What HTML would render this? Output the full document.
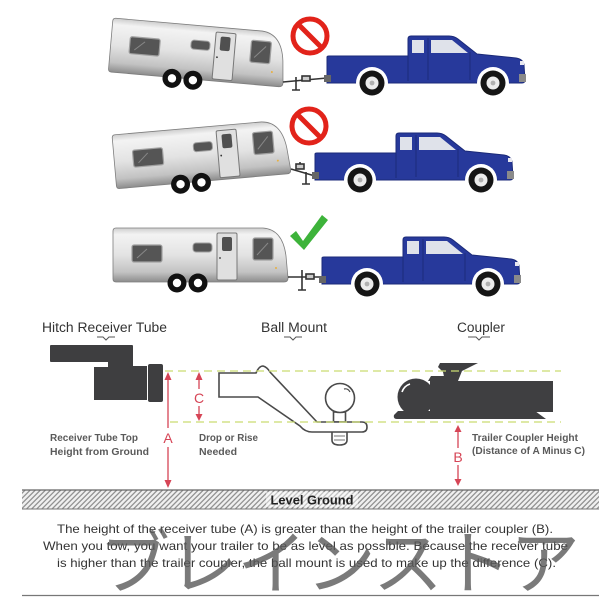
<!DOCTYPE html>
<html><head><meta charset="utf-8"><style>
html,body{margin:0;padding:0;background:#fff;}
svg{display:block;}
</style></head><body>
<svg width="604" height="600" viewBox="0 0 604 600" xmlns="http://www.w3.org/2000/svg">
<defs>
 <linearGradient id="silver" x1="0" y1="0" x2="0" y2="1">
  <stop offset="0" stop-color="#cdcdcd"/>
  <stop offset="0.12" stop-color="#f3f3f3"/>
  <stop offset="0.5" stop-color="#e3e3e3"/>
  <stop offset="0.82" stop-color="#c2c2c2"/>
  <stop offset="1" stop-color="#8c8c8c"/>
 </linearGradient>
 <pattern id="hatch" width="3.6" height="10" patternUnits="userSpaceOnUse" patternTransform="rotate(45)">
  <rect width="3.6" height="10" fill="#f0f0f0"/>
  <line x1="0.7" y1="0" x2="0.7" y2="10" stroke="#8a8a8a" stroke-width="1.2"/>
 </pattern>
 <g id="trailer">
  <path d="M3,0 L150,0 C164,1 171,12 173,28 L175,50 Q175,54 171,54 L3,54 Q0,54 0,51 L0,3 Q0,0 3,0Z" fill="url(#silver)" stroke="#7d7d7d" stroke-width="0.8"/>
  <rect x="19" y="17" width="30" height="17" rx="2" fill="#555" stroke="#a0a0a0" stroke-width="1.2"/>
  <line x1="24" y1="30" x2="34" y2="21" stroke="#888" stroke-width="1"/>
  <rect x="80" y="15" width="19" height="9" rx="3" fill="#555" stroke="#a0a0a0" stroke-width="1"/>
  <rect x="104" y="5" width="20" height="47" rx="1.5" fill="#e0e0e0" stroke="#777" stroke-width="1"/>
  <rect x="109" y="9" width="10" height="14" rx="2" fill="#505050"/>
  <circle cx="107" cy="30" r="0.9" fill="#333"/>
  <rect x="140" y="10" width="20" height="22" rx="2" fill="#555" stroke="#a0a0a0" stroke-width="1.2"/>
  <line x1="144" y1="27" x2="155" y2="15" stroke="#888" stroke-width="1"/>
  <circle cx="163" cy="40" r="1" fill="#e8b040"/>
  <circle cx="64" cy="55" r="9.5" fill="#111"/><circle cx="64" cy="55" r="4.2" fill="#fff"/>
  <circle cx="85" cy="55" r="9.5" fill="#111"/><circle cx="85" cy="55" r="4.2" fill="#fff"/>
 </g>
 <g id="truck">
  <path d="M0,1 Q0,0 2,0 L81,0 L81,-17 Q81,-20 84,-20 L122,-20 Q127,-20 131,-17 L150,-2 L189,2 Q196,3 197,9 L198,24 Q198,27 195,27 L0,27 Z" fill="#27399b" stroke="#1b2a78" stroke-width="1"/>
  <line x1="81" y1="0" x2="81" y2="25" stroke="#1b2a78" stroke-width="1"/>
  <line x1="101" y1="-18" x2="101" y2="24" stroke="#1b2a78" stroke-width="0.9"/>
  <line x1="143" y1="-4" x2="143" y2="24" stroke="#1b2a78" stroke-width="0.9"/>
  <rect x="85" y="-16" width="12" height="13" fill="#dfe2ea"/>
  <polygon points="104,-16 125,-16 141,-3 104,-3" fill="#dfe2ea"/>
  <rect x="-3" y="19" width="7" height="7" fill="#666"/>
  <rect x="192" y="18" width="7" height="8" fill="#8a8a8a"/>
  <rect x="193" y="5" width="4" height="4" fill="#e8e8f0"/>
  <circle cx="45" cy="27" r="16" fill="#fff"/>
  <circle cx="166" cy="27" r="16" fill="#fff"/>
  <circle cx="45" cy="27" r="12.5" fill="#151515"/><circle cx="45" cy="27" r="6.5" fill="#ececec"/><circle cx="45" cy="27" r="2.4" fill="#b0b0b0"/>
  <circle cx="166" cy="27" r="12.5" fill="#151515"/><circle cx="166" cy="27" r="6.5" fill="#ececec"/><circle cx="166" cy="27" r="2.4" fill="#b0b0b0"/>
 </g>
</defs>

<!-- Row 1 -->
<use href="#trailer" transform="translate(113,18) rotate(5)"/>
<g stroke="#333" stroke-width="1.6" fill="none">
 <path d="M283,82 L327,78"/>
 <path d="M296,77 L296,90 M292,90 L300,90"/>
 <rect x="302" y="76" width="8" height="5" fill="#ccc"/>
</g>
<use href="#truck" transform="translate(327,56)"/>
<g transform="translate(310,36)"><circle r="17" fill="#fff" stroke="#e2231a" stroke-width="5"/><line x1="-12" y1="-12" x2="12" y2="12" stroke="#e2231a" stroke-width="5"/></g>

<!-- Row 2 -->
<use href="#trailer" transform="translate(112,135) rotate(-5)"/>
<g stroke="#333" stroke-width="1.6" fill="none">
 <path d="M291,169 L315,176"/>
 <path d="M300,166 L300,162 M306,172 L306,184 M302,184 L310,184"/>
 <rect x="296" y="164" width="8" height="5" fill="#ccc"/>
</g>
<use href="#truck" transform="translate(315,153)"/>
<g transform="translate(309,126)"><circle r="17" fill="#fff" stroke="#e2231a" stroke-width="5"/><line x1="-12" y1="-12" x2="12" y2="12" stroke="#e2231a" stroke-width="5"/></g>

<!-- Row 3 -->
<use href="#trailer" transform="translate(113,228)"/>
<g stroke="#333" stroke-width="1.6" fill="none">
 <path d="M288,277 L322,277"/>
 <path d="M302,270 L302,290 M298,290 L306,290"/>
 <rect x="306" y="274" width="8" height="5" fill="#ccc"/>
</g>
<use href="#truck" transform="translate(322,257)"/>
<polygon points="290,236 296,231 303,241 322,215 328,220 304,250" fill="#3db33a"/>

<!-- Titles -->
<g font-family="Liberation Sans, Arial, sans-serif" fill="#333" font-size="13.5">
 <text x="42" y="332" textLength="125" lengthAdjust="spacingAndGlyphs">Hitch Receiver Tube</text>
 <text x="261" y="332" textLength="66" lengthAdjust="spacingAndGlyphs">Ball Mount</text>
 <text x="457" y="332" textLength="48" lengthAdjust="spacingAndGlyphs">Coupler</text>
</g>
<g stroke="#555" stroke-width="1" fill="none">
 <path d="M97,337 L103,337 L106,340 L109,337 L115,337"/>
 <path d="M284,337 L290,337 L293,340 L296,337 L302,337"/>
 <path d="M468,337 L476,337 L479,340 L482,337 L490,337"/>
</g>

<!-- Receiver tube -->
<path d="M50,346 Q50,345 51,345 L132,345 Q133,345 133,346 L133,366 L147,366 L147,400 L94,400 L94,367 L108,367 L108,362 L51,362 Q50,362 50,361 Z" fill="#3e3e40"/>
<rect x="148" y="364" width="15" height="38" rx="2" fill="#3e3e40"/>

<!-- Ball mount -->
<g stroke="#4a4a4a" stroke-width="1.6" fill="#fff">
 <path d="M332,432 L332,440 Q332,445 339.5,445 Q347,445 347,440 L347,432"/>
 <path d="M334,436 L345,436 M334,440 L345,440" stroke-width="0.8"/>
 <rect x="333.5" y="412" width="12" height="10"/>
 <circle cx="340" cy="398" r="14.5"/>
 <path d="M344,389 Q348,388 350,392" stroke-width="1.2" fill="none"/>
 <path d="M219,373 L256,373 Q259,366 263,366 Q267,367 270,372 L317,422 L362,422 Q367,422 367,427 Q367,432 362,432 L312,432 Q305,432 300,426 L258,397 L219,397 Z"/>
</g>

<!-- Coupler -->
<g fill="#3f3f41">
 <circle cx="416" cy="397" r="18.5"/>
 <rect x="430" y="381" width="123" height="31"/>
 <path d="M428,381 L431,376 L446,376 L448,381 Z"/>
 <polygon points="440,363 478,363 470,367 462,371 458,381 445,381 443,372 438,367"/>
 <path d="M398,411 L535,411 L546,419 L397,419 Q393,419 394,415 Z"/>
</g>
<path d="M402,392 Q404,386 410,384" stroke="#fff" stroke-width="1.6" fill="none"/>

<!-- Dashed guide lines -->
<g stroke="#cbdc72" stroke-width="1.3" stroke-dasharray="8 5" fill="none">
 <line x1="165" y1="371" x2="561" y2="371"/>
 <line x1="170" y1="422" x2="561" y2="422"/>
</g>

<!-- Red arrows -->
<g stroke="#d64556" stroke-width="1.3">
 <line x1="168" y1="378" x2="168" y2="428"/>
 <line x1="168" y1="447" x2="168" y2="482"/>
 <line x1="199" y1="378" x2="199" y2="389"/>
 <line x1="199" y1="406" x2="199" y2="416"/>
 <line x1="458" y1="430" x2="458" y2="448"/>
 <line x1="458" y1="465" x2="458" y2="481"/>
</g>
<g fill="#d64556">
 <polygon points="168,372 164.5,380 171.5,380"/>
 <polygon points="168,488 164.5,480 171.5,480"/>
 <polygon points="199,372 195.5,380 202.5,380"/>
 <polygon points="199,421 195.5,414 202.5,414"/>
 <polygon points="458,425 454.5,432 461.5,432"/>
 <polygon points="458,486 454.5,479 461.5,479"/>
</g>
<g font-family="Liberation Sans, Arial, sans-serif" fill="#d64556" font-size="14" text-anchor="middle">
 <text x="168" y="443">A</text>
 <text x="199" y="403">C</text>
 <text x="458" y="462">B</text>
</g>

<!-- Small labels -->
<g font-family="Liberation Sans, Arial, sans-serif" fill="#5a5a5a" font-size="10" font-weight="bold">
 <text x="50" y="441" textLength="88" lengthAdjust="spacingAndGlyphs">Receiver Tube Top</text>
 <text x="50" y="455" textLength="99" lengthAdjust="spacingAndGlyphs">Height from Ground</text>
 <text x="199" y="441" textLength="59" lengthAdjust="spacingAndGlyphs">Drop or Rise</text>
 <text x="199" y="455" textLength="38" lengthAdjust="spacingAndGlyphs">Needed</text>
 <text x="472" y="441" textLength="106" lengthAdjust="spacingAndGlyphs">Trailer Coupler Height</text>
 <text x="472" y="454" textLength="113" lengthAdjust="spacingAndGlyphs">(Distance of A Minus C)</text>
</g>

<!-- Level ground -->
<rect x="22" y="490" width="577" height="19" fill="url(#hatch)"/>
<line x1="22" y1="490" x2="599" y2="490" stroke="#666" stroke-width="1.2"/>
<line x1="22" y1="509" x2="599" y2="509" stroke="#777" stroke-width="1"/>
<rect x="266" y="492" width="92" height="15" fill="#fff" opacity="0.45"/>
<text x="312" y="504.5" font-family="Liberation Sans, Arial, sans-serif" font-size="13" font-weight="bold" fill="#222" text-anchor="middle" textLength="83" lengthAdjust="spacingAndGlyphs">Level Ground</text>

<!-- Paragraph -->
<g font-family="Liberation Sans, Arial, sans-serif" fill="#333" font-size="12">
 <text x="57" y="533" textLength="496" lengthAdjust="spacingAndGlyphs">The height of the receiver tube (A) is greater than the height of the trailer coupler (B).</text>
 <text x="43" y="550" textLength="525" lengthAdjust="spacingAndGlyphs">When you tow, you want your trailer to be as level as possible. Because the receiver tube</text>
 <text x="57" y="567" textLength="499" lengthAdjust="spacingAndGlyphs">is higher than the trailer coupler, the ball mount is used to make up the difference (C).</text>
</g>

<!-- Watermark -->
<text x="100" y="588" font-family="Liberation Sans, 'Noto Sans CJK JP', sans-serif" font-size="70" fill="#5a5a5a" opacity="0.8" textLength="480" lengthAdjust="spacing">ブレインストア</text>

<line x1="22" y1="595.5" x2="599" y2="595.5" stroke="#777" stroke-width="1.3"/>
</svg>
</body></html>
